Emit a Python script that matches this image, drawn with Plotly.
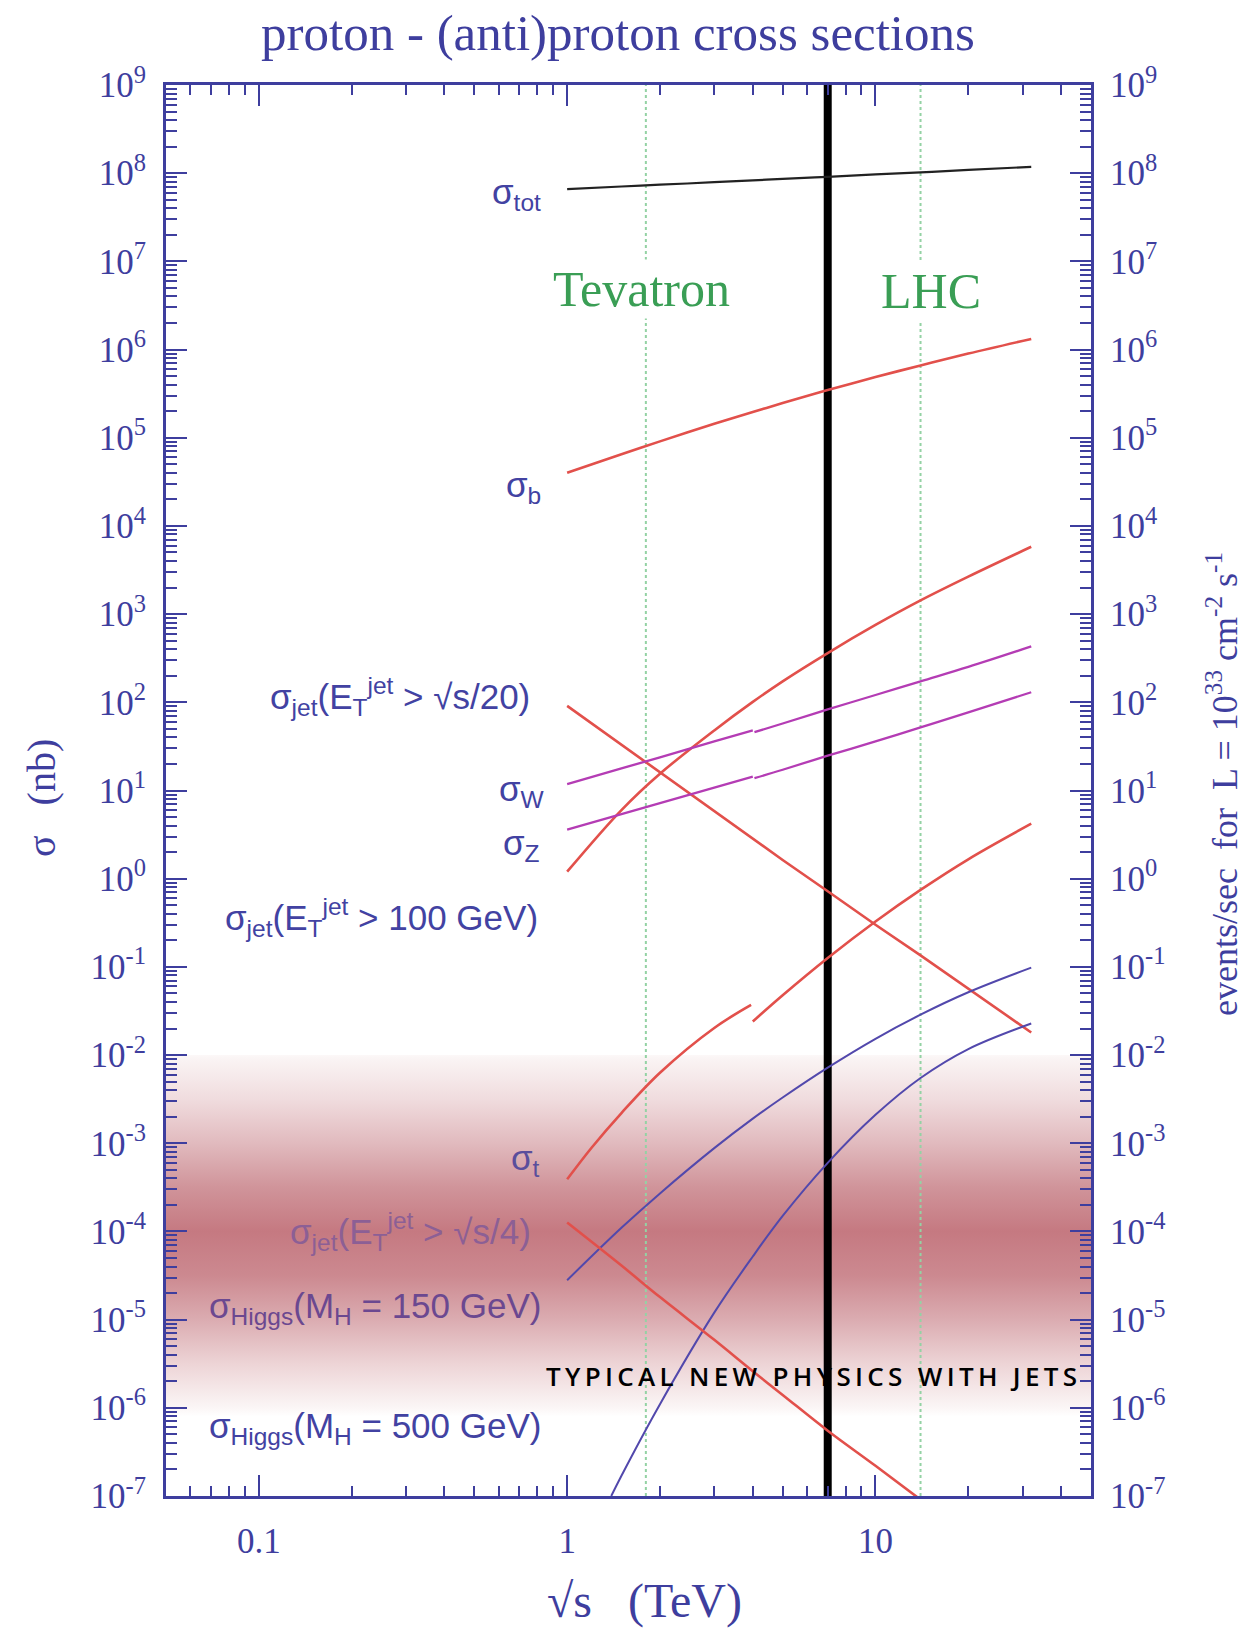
import math
import plotly.graph_objects as go

# ---------------- data: cross sections in nb versus sqrt(s) in TeV ----------------
sqrt_s = [1, 1.5, 2, 3, 4, 5, 7, 10, 14, 20, 32]
sqrt_s_below_4 = [1, 1.5, 2, 3, 4]
sqrt_s_above_4 = [4.05, 5, 7, 10, 14, 20, 32]

sigma_tot = [6.6e7, 7.06e7, 7.4e7, 7.9e7, 8.3e7, 8.6e7, 9.1e7, 9.7e7, 1.02e8, 1.09e8, 1.18e8]
sigma_b = [4.0e4, 6.5e4, 9.1e4, 1.44e5, 1.96e5, 2.47e5, 3.47e5, 4.88e5, 6.6e5, 9.0e5, 1.32e6]
sigma_jet_100gev = [1.2, 6.0, 15.5, 48, 101, 173, 362, 753, 1430, 2660, 5800]
sigma_jet_s20 = [91, 33, 15.9, 5.8, 2.8, 1.63, 0.72, 0.30, 0.135, 0.057, 0.018]

sigma_w_below_4 = [11.8, 17.8, 23.8, 36, 48]
sigma_w_above_4 = [45.9, 57.5, 83, 121, 173, 252, 430]
sigma_z_below_4 = [3.6, 5.4, 7.2, 10.8, 14.4]
sigma_z_above_4 = [13.8, 17.2, 24.8, 36, 52, 77, 130]

sqrt_s_top_low = [1, 1.2, 1.5, 2, 3, 3.95]
sigma_top_low = [3.9e-4, 8.9e-4, 2.2e-3, 6.3e-3, 2.03e-2, 3.7e-2]
sqrt_s_top_high = [4, 5, 7, 10, 14, 20, 32]
sigma_top_high = [0.024, 0.0476, 0.126, 0.327, 0.746, 1.66, 4.2]

sigma_higgs_150 = [2.8e-5, 1.1e-4, 2.7e-4, 8.8e-4, 1.9e-3, 3.3e-3, 7.2e-3, 1.53e-2, 2.87e-2, 5.15e-2, 9.8e-2]
sqrt_s_higgs_500 = [1.39, 1.5, 2, 3, 4, 5, 7, 10, 14, 20, 32]
sigma_higgs_500 = [1.0e-7, 1.7e-7, 1.1e-6, 1.2e-5, 5.2e-5, 1.5e-4, 6.0e-4, 2.1e-3, 5.5e-3, 1.17e-2, 2.28e-2]

sqrt_s_jet_s4 = [1, 1.5, 2, 3, 4, 5, 7, 10, 14]
sigma_jet_s4 = [1.26e-4, 4.1e-5, 1.8e-5, 5.9e-6, 2.6e-6, 1.4e-6, 5.5e-7, 2.2e-7, 9.1e-8]

# collider energies (TeV)
tevatron_energy = 1.8
lhc_design_energy = 14
lhc_run_energy = 7

# axis extents
x_min, x_max = 0.05, 50
y_exp_min, y_exp_max = -7, 9

# "typical new physics" band limits (nb)
band_top, band_bottom = 1e-2, 10 ** -6.1

# tick labels
x_tick_vals = [0.1, 1, 10]
x_tick_text = ["0.1", "1", "10"]
y_exponents = list(range(y_exp_min, y_exp_max + 1))
y_tick_vals = [10.0 ** k for k in y_exponents]
y_tick_text = [f"10<sup>{k}</sup>" for k in y_exponents]

x_minor = [m * 10.0 ** k for k in (-2, -1, 0, 1) for m in range(2, 10)
           if x_min <= m * 10.0 ** k <= x_max and m * 10.0 ** k not in x_tick_vals]
y_minor = [m * 10.0 ** k for k in range(y_exp_min, y_exp_max) for m in range(2, 10)]

# ---------------- styling ----------------
AXIS = "#3e3e9e"
LABEL = "#4242a2"
RED = "#e2504b"
MAGENTA = "#b43cb4"
BLUE = "#5248ac"
GREEN = "#3a9e55"
DOT_GREEN = "#94d2a4"
SERIF = "Liberation Serif"
SANS = "Liberation Sans"

PLOT_L, PLOT_T, PLOT_W, PLOT_H = 166, 85, 925, 1411


def fx(p):
    return (p - PLOT_L) / PLOT_W


def fy(p):
    return (PLOT_T + PLOT_H - p) / PLOT_H


fig = go.Figure()

# shaded band (strongest around 1e-4 nb)
band_scale = [
    [0.000, "rgb(255,255,255)"],
    [0.024, "rgb(251,246,246)"],
    [0.146, "rgb(237,212,214)"],
    [0.268, "rgb(219,172,177)"],
    [0.390, "rgb(204,137,144)"],
    [0.512, "rgb(197,121,129)"],
    [0.634, "rgb(208,148,154)"],
    [0.756, "rgb(225,186,190)"],
    [0.878, "rgb(240,220,222)"],
    [0.990, "rgb(250,244,244)"],
    [1.000, "rgb(252,248,248)"],
]
fig.add_trace(go.Scatter(
    x=[x_min, x_max, x_max, x_min, x_min],
    y=[band_top, band_top, band_bottom, band_bottom, band_top],
    mode="lines", line=dict(width=0), fill="toself",
    fillgradient=dict(type="vertical", colorscale=band_scale),
    hoverinfo="skip", showlegend=False))

# collider energy markers
for e in (tevatron_energy, lhc_design_energy):
    fig.add_trace(go.Scatter(x=[e, e], y=[10.0 ** y_exp_min, 10.0 ** y_exp_max], mode="lines",
                             line=dict(color=DOT_GREEN, width=2, dash="dot"),
                             hoverinfo="skip", showlegend=False))
fig.add_trace(go.Scatter(x=[lhc_run_energy, lhc_run_energy], y=[10.0 ** y_exp_min, 10.0 ** y_exp_max],
                         mode="lines", line=dict(color="black", width=8),
                         hoverinfo="skip", showlegend=False))


def curve(x, y, color, width, shape="spline"):
    fig.add_trace(go.Scatter(x=x, y=y, mode="lines",
                             line=dict(color=color, width=width, shape=shape, smoothing=1.0),
                             hoverinfo="skip", showlegend=False))


curve(sqrt_s, sigma_tot, "#222222", 2.2)
curve(sqrt_s, sigma_b, RED, 2.6)
curve(sqrt_s, sigma_jet_100gev, RED, 2.6)
curve(sqrt_s, sigma_jet_s20, RED, 2.6, shape="linear")
curve(sqrt_s_below_4, sigma_w_below_4, MAGENTA, 2.3)
curve(sqrt_s_above_4, sigma_w_above_4, MAGENTA, 2.3)
curve(sqrt_s_below_4, sigma_z_below_4, MAGENTA, 2.3)
curve(sqrt_s_above_4, sigma_z_above_4, MAGENTA, 2.3)
curve(sqrt_s_top_low, sigma_top_low, RED, 2.6)
curve(sqrt_s_top_high, sigma_top_high, RED, 2.6)
curve(sqrt_s, sigma_higgs_150, BLUE, 2.0)
curve(sqrt_s_higgs_500, sigma_higgs_500, BLUE, 2.0)
curve(sqrt_s_jet_s4, sigma_jet_s4, RED, 2.6)

# carrier for the top / right axes
fig.add_trace(go.Scatter(x=[x_min, x_max], y=[10.0 ** y_exp_min, 10.0 ** y_exp_max],
                         xaxis="x2", yaxis="y2", mode="markers", marker=dict(opacity=0),
                         hoverinfo="skip", showlegend=False))

# ---------------- curve labels ----------------
ET = "E<sub>T</sub><sup>jet</sup>"
curve_labels = [
    ("σ<sub>tot</sub>", 543, 194, LABEL),
    ("σ<sub>b</sub>", 543, 487, LABEL),
    (f"σ<sub>jet</sub>({ET} > √s/20)", 532, 697, LABEL),
    ("σ<sub>W</sub>", 547, 791, LABEL),
    ("σ<sub>Z</sub>", 542, 845, LABEL),
    (f"σ<sub>jet</sub>({ET} > 100 GeV)", 540, 917, LABEL),
    ("σ<sub>t</sub>", 542, 1160, "#5a4e9c"),
    (f"σ<sub>jet</sub>({ET} > √s/4)", 533, 1231, "#8c5f95"),
    ("σ<sub>Higgs</sub>(M<sub>H</sub> = 150 GeV)", 543, 1308, "#6b4890"),
    ("σ<sub>Higgs</sub>(M<sub>H</sub> = 500 GeV)", 543, 1428, LABEL),
]
annotations = []
for text, right_px, mid_px, color in curve_labels:
    annotations.append(dict(text=text, xref="paper", yref="paper", x=fx(right_px), y=fy(mid_px),
                            xanchor="right", yanchor="middle", showarrow=False,
                            font=dict(family=SANS, size=35, color=color)))

# collider names
annotations.append(dict(text="Tevatron", xref="paper", yref="paper", x=fx(641), y=fy(289),
                        xanchor="center", yanchor="middle", showarrow=False, bgcolor="white",
                        font=dict(family=SERIF, size=50, color=GREEN)))
annotations.append(dict(text="LHC", xref="paper", yref="paper", x=fx(931), y=fy(291),
                        xanchor="center", yanchor="middle", showarrow=False, bgcolor="white",
                        font=dict(family=SERIF, size=50, color=GREEN)))

# band caption
caption = "\u2009".join("TYPICAL NEW PHYSICS WITH JETS")
annotations.append(dict(text=caption, xref="paper", yref="paper", x=fx(811), y=fy(1376),
                        xanchor="center", yanchor="middle", showarrow=False,
                        font=dict(family="Open Sans", size=26, color="black", weight=600)))

# titles
annotations.append(dict(text="proton - (anti)proton cross sections", xref="paper", yref="paper",
                        x=fx(618), y=fy(33), xanchor="center", yanchor="middle", showarrow=False,
                        font=dict(family=SERIF, size=51, color=AXIS)))
annotations.append(dict(text="√s\u00a0\u00a0\u00a0(TeV)", xref="paper", yref="paper",
                        x=fx(644), y=fy(1601), xanchor="center", yanchor="middle", showarrow=False,
                        font=dict(family=SERIF, size=48, color=AXIS)))
annotations.append(dict(text="σ\u00a0\u00a0\u00a0(nb)", xref="paper", yref="paper",
                        x=fx(41), y=fy(798), xanchor="center", yanchor="middle", showarrow=False,
                        textangle=-90, font=dict(family=SERIF, size=40, color=AXIS)))
annotations.append(dict(text="events/sec\u00a0\u00a0for\u00a0\u00a0L = 10<sup>33</sup> cm<sup>-2</sup> s<sup>-1</sup>",
                        xref="paper", yref="paper", x=fx(1222), y=fy(784),
                        xanchor="center", yanchor="middle", showarrow=False, textangle=-90,
                        font=dict(family=SERIF, size=36, color=AXIS)))

# ---------------- axes ----------------
x_range = [math.log10(x_min), math.log10(x_max)]
y_range = [y_exp_min, y_exp_max]
tick_font = dict(family=SERIF, size=35, color=AXIS)
x_minor_cfg = dict(tickmode="array", tickvals=x_minor, ticks="inside", ticklen=10, tickwidth=2,
                   tickcolor=AXIS, showgrid=False)
y_minor_cfg = dict(tickmode="array", tickvals=y_minor, ticks="inside", ticklen=11, tickwidth=2,
                   tickcolor=AXIS, showgrid=False)

fig.update_layout(
    width=1258, height=1631,
    margin=dict(l=PLOT_L, r=1258 - PLOT_L - PLOT_W, t=PLOT_T, b=1631 - PLOT_T - PLOT_H),
    paper_bgcolor="white", plot_bgcolor="white", showlegend=False,
    xaxis=dict(type="log", range=x_range, tickmode="array", tickvals=x_tick_vals, ticktext=x_tick_text,
               ticks="inside", ticklen=21, tickwidth=2, tickcolor=AXIS, showline=True, linecolor=AXIS,
               linewidth=3, mirror=True, showgrid=False, zeroline=False, tickfont=tick_font,
               ticklabelstandoff=12, minor=x_minor_cfg),
    xaxis2=dict(type="log", range=x_range, overlaying="x", side="top", anchor="y", tickmode="array",
                tickvals=x_tick_vals, showticklabels=False, ticks="inside", ticklen=21, tickwidth=2,
                tickcolor=AXIS, showline=False, showgrid=False, zeroline=False, minor=x_minor_cfg),
    yaxis=dict(type="log", range=y_range, tickmode="array", tickvals=y_tick_vals, ticktext=y_tick_text,
               ticks="inside", ticklen=21, tickwidth=2, tickcolor=AXIS, showline=True, linecolor=AXIS,
               linewidth=3, mirror=True, showgrid=False, zeroline=False, tickfont=tick_font,
               ticklabelstandoff=10, minor=y_minor_cfg),
    yaxis2=dict(type="log", range=y_range, overlaying="y", side="right", anchor="x", tickmode="array",
                tickvals=y_tick_vals, ticktext=y_tick_text, ticks="inside", ticklen=21, tickwidth=2,
                tickcolor=AXIS, showline=False, showgrid=False, zeroline=False, tickfont=tick_font,
                ticklabelstandoff=18, minor=y_minor_cfg),
    annotations=annotations,
)

fig.write_html("out.html")
